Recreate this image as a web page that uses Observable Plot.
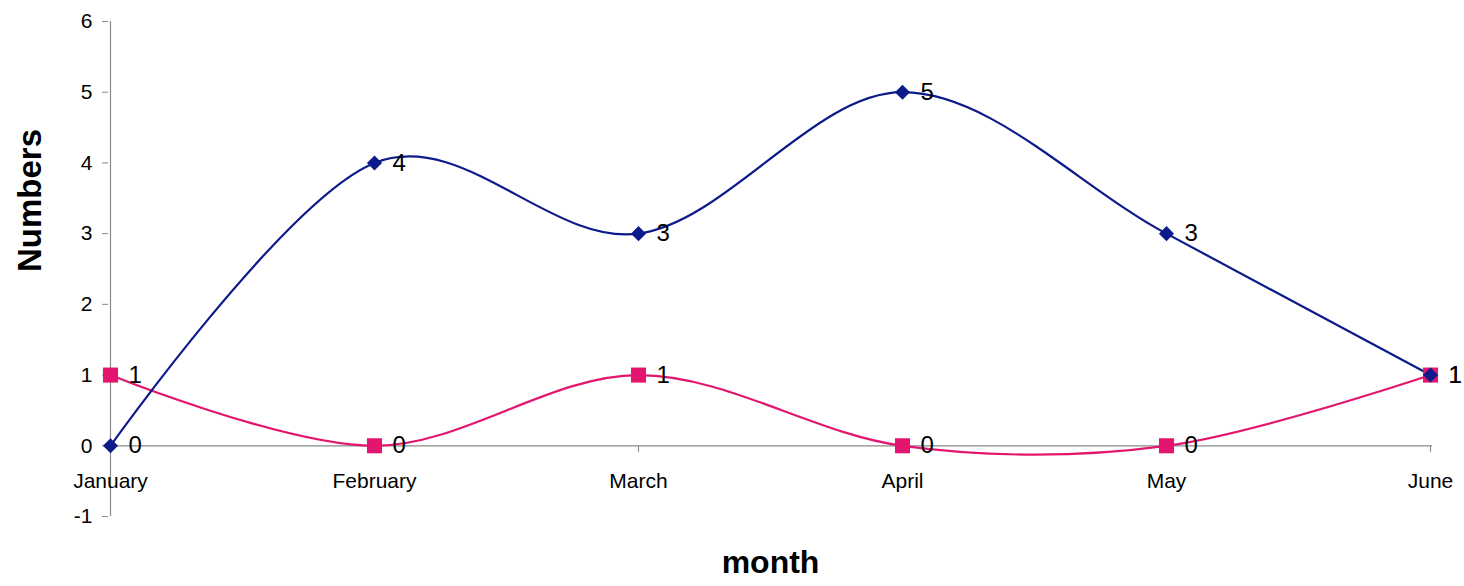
<!DOCTYPE html>
<html>
<head>
<meta charset="utf-8">
<script src="https://cdn.jsdelivr.net/npm/d3@7"></script>
<script src="https://cdn.jsdelivr.net/npm/@observablehq/plot@0.6"></script>
<style>
  body { margin: 0; background: #fff; }
  #chart svg { display: block; }
</style>
</head>
<body>
<div id="chart"></div>
<script>
const months = ["January", "February", "March", "April", "May", "June"];
const seriesA = [0, 4, 3, 5, 3, 1];   // blue diamonds
const seriesB = [1, 0, 1, 0, 0, 1];   // pink squares
const yTicks = [-1, 0, 1, 2, 3, 4, 5, 6];

const blue = "#0c1a8a";
const pink = "#e3166f";
const axisGray = "#8a8a8a";

const dataA = months.map((m, i) => ({month: m, value: seriesA[i]}));
const dataB = months.map((m, i) => ({month: m, value: seriesB[i]}));

const tickDown = {
  draw(context) { context.moveTo(0, 0); context.lineTo(0, 6); }
};

const chart = Plot.plot({
  width: 1464,
  height: 586,
  marginLeft: 108,
  marginRight: 32,
  marginTop: 21,
  marginBottom: 70,
  style: {fontFamily: "'Liberation Sans', Arial, sans-serif", fontSize: "21px", background: "#fff", color: "black"},
  x: {type: "point", domain: months, padding: 0, axis: null},
  y: {domain: [-1, 6], axis: null},
  marks: [
    Plot.ruleY([0], {stroke: axisGray, strokeWidth: 1.2}),
    Plot.ruleX([months[0]], {stroke: axisGray, strokeWidth: 1.2}),
    Plot.axisY({ticks: yTicks, tickSize: 6, tickPadding: 10, stroke: axisGray, fill: "black", label: null, fontSize: 21, tickFormat: d => String(d).replace("−", "-")}),
    Plot.dot(months, {x: d => d, y: () => 0, symbol: tickDown, stroke: axisGray, fill: "none", strokeWidth: 1.2}),
    Plot.text(months, {x: d => d, y: () => 0, dy: 35, text: d => d, fontSize: 21, fill: "black"}),
    Plot.line(dataB, {x: "month", y: "value", stroke: pink, strokeWidth: 2.2, curve: "cardinal"}),
    Plot.line(dataA, {x: "month", y: "value", stroke: blue, strokeWidth: 2.2, curve: "cardinal"}),
    Plot.dot(dataB, {x: "month", y: "value", symbol: "square", r: 8.5, fill: pink, stroke: "none"}),
    Plot.dot(dataA, {x: "month", y: "value", symbol: "diamond2", r: 6.8, fill: blue, stroke: "none"}),
    Plot.text(dataB, {x: "month", y: "value", text: d => String(d.value), dx: 18, textAnchor: "start", fontSize: 24, fill: "black"}),
    Plot.text(dataA, {x: "month", y: "value", text: d => String(d.value), dx: 18, textAnchor: "start", fontSize: 24, fill: "black"}),
    Plot.text(["Numbers"], {frameAnchor: "left", dx: -78, dy: 3, rotate: -90, text: d => d, fontSize: 33, fontWeight: "bold", fill: "black"}),
    Plot.text(["month"], {frameAnchor: "bottom", dy: 56, text: d => d, fontSize: 32, fontWeight: "bold", fill: "black"})
  ]
});
document.getElementById("chart").append(chart);
</script>
</body>
</html>
